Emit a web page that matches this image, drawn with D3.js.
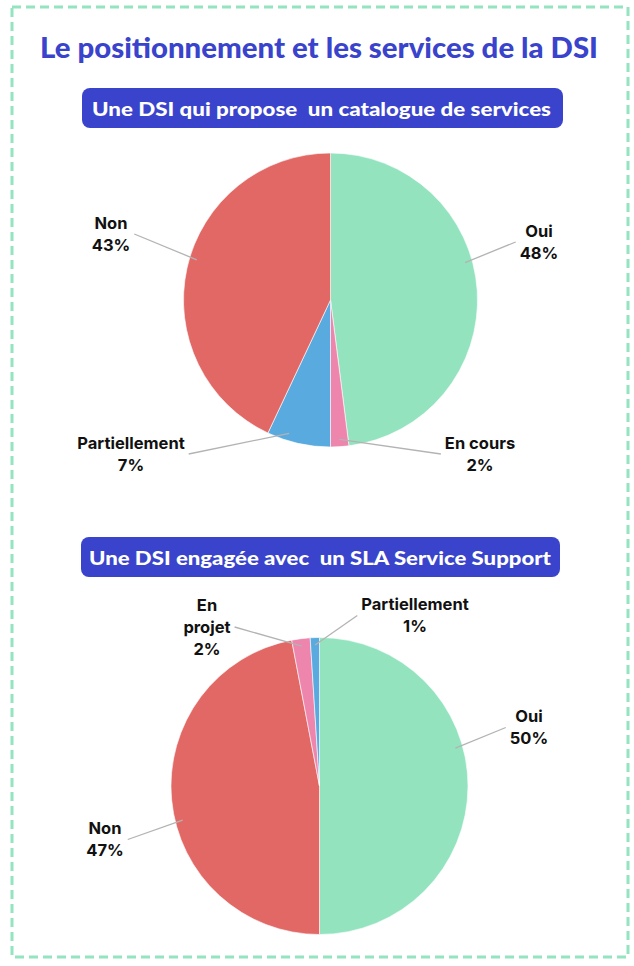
<!DOCTYPE html>
<html>
<head>
<meta charset="utf-8">
<script src="https://cdn.jsdelivr.net/npm/d3@7"></script>
<style>
  body { margin: 0; background: #fff; }
  svg { display: block; }
</style>
</head>
<body>
<div id="chart"></div>
<script>
// donnees
var titre = "Le positionnement et les services de la DSI";

var catalogueTitre = "Une DSI qui propose  un catalogue de services";
var catalogueCats = ["Oui", "En cours", "Partiellement", "Non"];
var catalogueVals = [48, 2, 7, 43];

var slaTitre = "Une DSI engagée avec  un SLA Service Support";
var slaCats = ["Oui", "Non", "En projet", "Partiellement"];
var slaVals = [50, 47, 2, 1];

var couleurs = {
    "Oui": "#93e3bf",
    "Non": "#e26866",
    "Partiellement": "#58aadf",
    "En cours": "#ee85ad",
    "En projet": "#ee85ad"
};

var width = 634, height = 966;
var bleu = "#3a43cc";

var svg = d3.select("#chart").append("svg")
    .attr("width", width)
    .attr("height", height);

// cadre en pointilles
svg.append("rect")
    .attr("x", 12).attr("y", 7)
    .attr("width", 616).attr("height", 950)
    .attr("fill", "none")
    .attr("stroke", "#94e4c0")
    .attr("stroke-width", 3)
    .attr("stroke-dasharray", "9,5");

svg.append("text")
    .attr("x", 319).attr("y", 58)
    .attr("text-anchor", "middle")
    .attr("textLength", 558)
    .attr("lengthAdjust", "spacingAndGlyphs")
    .style("font-family", "Lato, 'Open Sans', sans-serif")
    .style("font-weight", 900)
    .style("font-size", "28px")
    .style("fill", bleu)
    .text(titre);

function pastille(y, x0, x1, txt, tx0, tx1) {
    svg.append("rect")
        .attr("x", x0).attr("y", y)
        .attr("width", x1 - x0).attr("height", 40)
        .attr("rx", 8)
        .attr("fill", bleu);
    svg.append("text")
        .attr("x", (tx0 + tx1) / 2).attr("y", y + 28)
        .attr("text-anchor", "middle")
        .attr("textLength", tx1 - tx0)
        .attr("lengthAdjust", "spacingAndGlyphs")
        .style("white-space", "pre")
        .style("font-family", "Lato, 'Open Sans', sans-serif")
        .style("font-weight", 900)
        .style("font-size", "19px")
        .style("fill", "#fff")
        .text(txt);
}

pastille(88, 82, 563, catalogueTitre, 92, 551);
pastille(537, 81, 560, slaTitre, 89, 551);

var rad = Math.PI / 180;

function camembert(cats, vals, cx, cy, r, etiquettes) {
    var data = cats.map(function(c, i) { return {cat: c, val: vals[i]}; });
    var pie = d3.pie().sort(null).value(function(d) { return d.val; });
    var arc = d3.arc().innerRadius(0).outerRadius(r);
    var arcs = pie(data);

    var g = svg.append("g").attr("transform", "translate(" + cx + "," + cy + ")");

    g.selectAll("path")
        .data(arcs)
        .enter().append("path")
        .attr("d", arc)
        .attr("fill", function(d) { return couleurs[d.data.cat]; })
        .attr("stroke", "#fff")
        .attr("stroke-width", 0.6);

    arcs.forEach(function(a, i) {
        var pos = etiquettes[i];
        var lignes = pos.coupe ? a.data.cat.split(" ") : [a.data.cat];
        lignes.push(a.data.val + "%");

        var lh = 22;
        var lbl = g.append("g");
        var y0 = pos.dy - (lignes.length - 1) * lh / 2;
        var maxW = 0;
        lignes.forEach(function(t, k) {
            var txt = lbl.append("text")
                .attr("x", pos.dx)
                .attr("y", y0 + k * lh)
                .attr("dy", "0.36em")
                .attr("text-anchor", "middle")
                .style("font-family", "Inter, sans-serif")
                .style("font-weight", 700)
                .style("font-size", "16.5px")
                .style("fill", "#111")
                .text(t);
            maxW = Math.max(maxW, txt.node().getComputedTextLength());
        });

        // point de depart du trait : dans la part, vers l'etiquette
        var angLbl = Math.atan2(pos.dx, -pos.dy);
        if (angLbl < 0) angLbl += 2 * Math.PI;
        var marge = Math.min((a.endAngle - a.startAngle) / 2, 8 * rad);
        var ang = Math.max(a.startAngle + marge, Math.min(a.endAngle - marge, angLbl));
        var x1 = Math.sin(ang) * r * 0.95;
        var y1 = -Math.cos(ang) * r * 0.95;
        var cote = pos.dx > x1 ? -1 : 1;
        var x2 = pos.dx + cote * (maxW / 2 + 4);
        var y2 = pos.dy;

        g.insert("line", "g")
            .attr("x1", x1).attr("y1", y1)
            .attr("x2", x2).attr("y2", y2)
            .attr("stroke", "#b3b3b3")
            .attr("stroke-width", 1.3);
    });
}

camembert(catalogueCats, catalogueVals, 330.5, 300, 147, [
    {dx: 208.5, dy: -58},
    {dx: 149.5, dy: 154},
    {dx: -199.5, dy: 154},
    {dx: -219.5, dy: -66}
]);

camembert(slaCats, slaVals, 319.5, 786, 148.5, [
    {dx: 209.5, dy: -58.5},
    {dx: -214.5, dy: 53.5},
    {dx: -112.5, dy: -159, coupe: true},
    {dx: 95.5, dy: -170.5}
]);
</script>
</body>
</html>
